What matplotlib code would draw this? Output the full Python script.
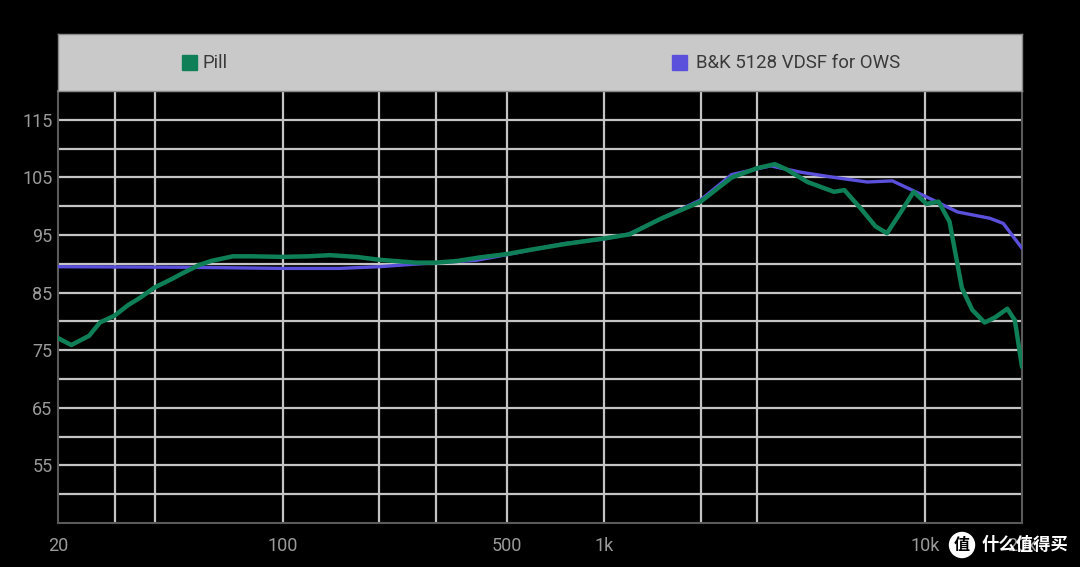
import numpy as np
import matplotlib
matplotlib.use('Agg')
from matplotlib import pyplot as plt
from matplotlib.patches import Rectangle, Circle

# Pill 频响 (Hz, dB)
pill_freq = [20, 22, 25, 27, 30, 33, 36, 40, 45, 49, 55, 60, 70, 80, 100, 120, 140, 170,
             200, 260, 300, 350, 410, 500, 600, 750, 1000, 1200, 1500, 2000, 2500, 3000,
             3400, 3700, 4300, 5200, 5600, 6300, 7000, 7600, 8400, 9200, 10100, 11000,
             11900, 13000, 14000, 15300, 16500, 18000, 19000, 20000]
pill_db = [77.1, 75.9, 77.5, 79.8, 81.0, 82.8, 84.1, 85.9, 87.3, 88.4, 89.8, 90.5, 91.3, 91.3,
           91.2, 91.3, 91.5, 91.2, 90.7, 90.2, 90.2, 90.5, 91.1, 91.7, 92.5, 93.4, 94.4, 95.1,
           97.8, 100.8, 105.0, 106.6, 107.3, 106.4, 104.2, 102.5, 102.8, 99.6, 96.5, 95.3,
           99.0, 102.5, 100.4, 100.8, 97.3, 85.8, 82.0, 79.8, 80.7, 82.2, 80.2, 72.1]

# B&K 5128 VDSF for OWS 目标曲线
bk_freq = [20, 50, 100, 150, 200, 300, 400, 500, 750, 1000, 1200, 1500, 2000, 2500, 3300,
           4100, 5200, 6600, 7900, 10100, 12600, 15900, 17500, 20000]
bk_db = [89.5, 89.4, 89.2, 89.2, 89.5, 90.2, 90.6, 91.6, 93.5, 94.3, 95.2, 97.8, 101.1, 105.5,
         107.0, 105.9, 105.0, 104.2, 104.4, 101.6, 99.0, 97.9, 97.0, 92.7]

x_grid = [30, 40, 100, 200, 300, 500, 1000, 2000, 3000, 10000]
x_ticks = [20, 100, 500, 1000, 10000, 20000]
x_labels = ['20', '100', '500', '1k', '10k', '20k']
y_ticks = [55, 65, 75, 85, 95, 105, 115]

green = '#0e7f56'
blue = '#5b50dc'
grid_c = '#c4c4c4'
text_c = '#9a9a9a'

plt.rcParams['font.family'] = ['Roboto', 'DejaVu Sans']

fig = plt.figure(figsize=(10.8, 5.67), dpi=100, facecolor='black')
ax = fig.add_axes([58/1080, 1-523/567, 964/1080, 432/567])
ax.set_facecolor('black')
ax.set_xscale('log')
ax.set_xlim(20, 20000)
ax.set_ylim(45, 120)

# 网格
for f in x_grid:
    ax.axvline(f, color=grid_c, lw=1.6, zorder=1)
for v in range(50, 120, 5):
    ax.axhline(v, color=grid_c, lw=1.6, zorder=1)

ax.plot(bk_freq, bk_db, color=blue, lw=2.4, zorder=3, solid_capstyle='round')
ax.plot(pill_freq, pill_db, color=green, lw=3.2, zorder=4, solid_capstyle='round',
        solid_joinstyle='round')

ax.set_xticks(x_ticks)
ax.set_xticklabels(x_labels)
ax.xaxis.set_minor_locator(matplotlib.ticker.NullLocator())
ax.set_yticks(y_ticks)
ax.tick_params(axis='both', length=0, colors=text_c, labelsize=13)
ax.tick_params(axis='x', pad=10)
ax.tick_params(axis='y', pad=4)
for s in ax.spines.values():
    s.set_color('#5a5a5a')
    s.set_linewidth(1.5)

# 图例栏
lg = fig.add_axes([58/1080, 1-91/567, 964/1080, 57/567])
lg.set_xlim(0, 964)
lg.set_ylim(0, 57)
lg.set_facecolor('#c9c9c9')
lg.set_xticks([]), lg.set_yticks([])
for s in lg.spines.values():
    s.set_color('#8a8a8a')
    s.set_linewidth(1)
lg.add_patch(Rectangle((124, 21), 15, 15, color=green))
lg.text(144, 28.5, 'Pill', fontsize=13.4, color='#3a3a3a', va='center')
lg.add_patch(Rectangle((614, 21), 15, 15, color=blue))
lg.text(638, 28.5, 'B&K 5128 VDSF for OWS', fontsize=13.4, color='#3a3a3a', va='center')

# 水印
fig.patches.append(Circle((962, 567-545), 12.5, transform=None, color='white', zorder=10))
fig.text(962/1080, 1-545/567, '值', fontsize=11.5, color='black', ha='center', va='center',
         family=['Noto Sans CJK SC'], weight='bold', zorder=11)
fig.text(982/1080, 1-545/567, '什么值得买', fontsize=12.5, color='white', ha='left', va='center',
         family=['Noto Sans CJK SC'], weight='bold', zorder=11)

fig.savefig('out.png', dpi=100, facecolor='black')
